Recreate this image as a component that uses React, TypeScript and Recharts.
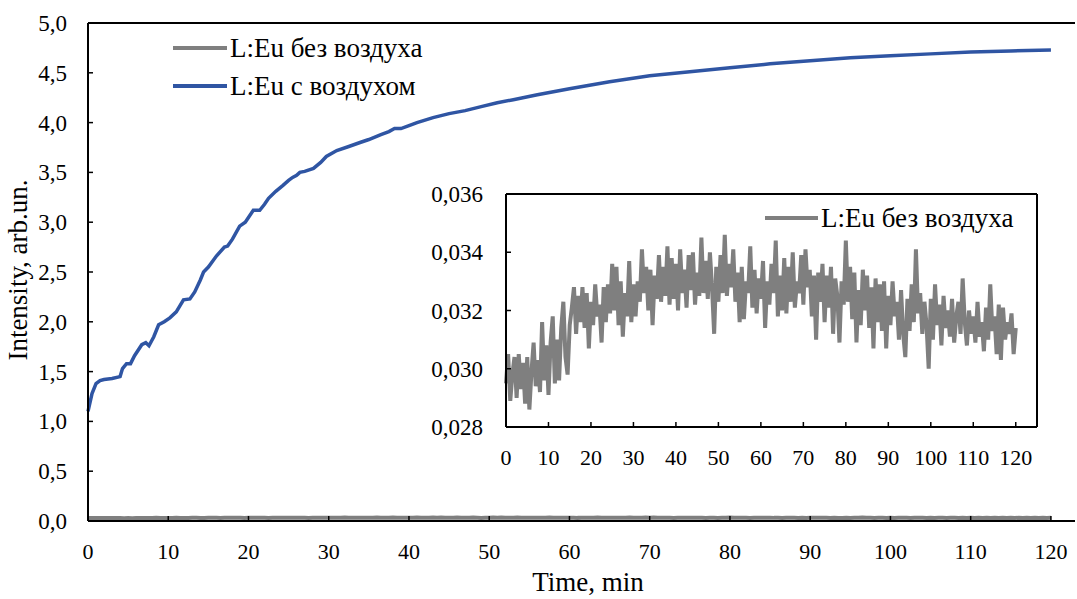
import { LineChart, Line, XAxis, YAxis, Legend, ReferenceLine } from 'recharts'

const FONT = 'Liberation Serif, DejaVu Serif, serif'
const X_TICK_FS = 22
const Y_TICK_FS = 23
const TITLE_FS = 27
const LEGEND_FS = 27

// L:Eu с воздухом
const airTime = [
  0, 0.5, 1, 1.5, 2, 3, 4, 4.3, 4.8, 5.3, 5.8, 6.7, 7.2, 7.6, 8.2, 8.8, 9.5, 10.2, 11, 11.9,
  12.7, 13.3, 14, 14.4, 15, 16, 17, 17.4, 18, 18.9, 19.6, 20.1, 20.6, 21.4, 22, 22.5, 23.4, 24.3,
  25, 25.5, 26, 26.4, 27, 28.1, 29, 29.7, 31, 32.5, 33.9, 35, 36.5, 37.5, 38.2, 39, 40, 41, 43,
  45, 47, 49, 51, 53, 56, 60, 65, 70, 75, 80, 85, 90, 95, 100, 105, 110, 115, 120
]
const airIntensity = [
  1.1, 1.28, 1.38, 1.41, 1.42, 1.43, 1.45, 1.53, 1.58, 1.58, 1.66, 1.77, 1.79, 1.76, 1.85, 1.97,
  2.0, 2.04, 2.1, 2.22, 2.23, 2.3, 2.42, 2.5, 2.55, 2.66, 2.75, 2.76, 2.83, 2.96, 3.0, 3.06, 3.12,
  3.12, 3.18, 3.24, 3.31, 3.37, 3.42, 3.45, 3.47, 3.5, 3.51, 3.54, 3.6, 3.66, 3.72, 3.76, 3.8,
  3.83, 3.88, 3.91, 3.94, 3.94, 3.97, 4.0, 4.05, 4.09, 4.12, 4.16, 4.2, 4.23, 4.28, 4.34, 4.41,
  4.47, 4.51, 4.55, 4.59, 4.62, 4.65, 4.67, 4.69, 4.71, 4.72, 4.73
]

// L:Eu без воздуха, one reading every 0.5 min
const noAirIntensity = [
  0.0295, 0.0305, 0.0289, 0.0298, 0.0304, 0.029, 0.0305, 0.0293, 0.0302, 0.0288,
  0.0304, 0.0286, 0.0299, 0.0309, 0.0294, 0.0303, 0.0292, 0.0316, 0.0296, 0.0308,
  0.0291, 0.0309, 0.0318, 0.0295, 0.031, 0.0296, 0.0314, 0.0323, 0.0304, 0.0298,
  0.0315, 0.0321, 0.0328, 0.0312, 0.0325, 0.0316, 0.0328, 0.0314, 0.0326, 0.0307,
  0.0323, 0.0315, 0.0329, 0.0318, 0.0322, 0.0309, 0.0328, 0.0316, 0.0329, 0.0319,
  0.0336, 0.032, 0.0335, 0.0315, 0.033, 0.0311, 0.0326, 0.0318, 0.0337, 0.0316,
  0.0329, 0.0318, 0.033, 0.0323, 0.0341, 0.0326, 0.0335, 0.032, 0.0334, 0.0315,
  0.0332, 0.0324, 0.0339, 0.0323, 0.0335, 0.0325, 0.0342, 0.0322, 0.0338, 0.0324,
  0.0336, 0.032, 0.0341, 0.0326, 0.0334, 0.0321, 0.0339, 0.0327, 0.034, 0.0322,
  0.0333, 0.0325, 0.0345, 0.0326, 0.0337, 0.0324, 0.034, 0.0328, 0.0312, 0.0335,
  0.0323, 0.0339, 0.0326, 0.0346, 0.0325, 0.0336, 0.0328, 0.0341, 0.0323, 0.0333,
  0.0316, 0.0335, 0.0317, 0.033, 0.0326, 0.0342, 0.0321, 0.0334, 0.0319, 0.0331,
  0.0324, 0.0337, 0.0314, 0.033, 0.0322, 0.0336, 0.0326, 0.0344, 0.0318, 0.0332,
  0.032, 0.0338, 0.0319, 0.0335, 0.0323, 0.034, 0.0321, 0.033, 0.0326, 0.0339,
  0.0322, 0.0341, 0.0328, 0.0334, 0.0318, 0.0332, 0.031, 0.0333, 0.0323, 0.0336,
  0.0316, 0.0332, 0.0321, 0.0335, 0.0312, 0.0331, 0.0325, 0.0309, 0.033, 0.0322,
  0.0344, 0.0323, 0.0335, 0.0317, 0.0333, 0.0309, 0.0327, 0.0315, 0.0334, 0.032,
  0.0332, 0.0314, 0.0328, 0.0307, 0.0331, 0.0316, 0.0329, 0.0313, 0.033, 0.0307,
  0.0325, 0.0315, 0.033, 0.0318, 0.0323, 0.031, 0.0327, 0.0312, 0.0304, 0.0324,
  0.0313, 0.0329, 0.0316, 0.0341, 0.0319, 0.0326, 0.0312, 0.0323, 0.0315, 0.03,
  0.0324, 0.031, 0.0329, 0.0315, 0.0322, 0.0308, 0.0325, 0.0314, 0.032, 0.0311,
  0.0324, 0.0309, 0.0318, 0.0323, 0.0312, 0.0331, 0.0316, 0.0308, 0.032, 0.0312,
  0.0318, 0.0309, 0.0323, 0.0311, 0.0316, 0.0306, 0.0321, 0.031, 0.0329, 0.0313,
  0.0318, 0.0305, 0.0322, 0.0303, 0.0321, 0.031, 0.0316, 0.0312, 0.0319, 0.0305,
  0.0314
]
const noAirTime = noAirIntensity.map((_, i) => i * 0.5)

const timeTicks = [0, 10, 20, 30, 40, 50, 60, 70, 80, 90, 100, 110, 120]
const mainYTicks = [0, 0.5, 1, 1.5, 2, 2.5, 3, 3.5, 4, 4.5, 5]
const insetYTicks = [0.028, 0.03, 0.032, 0.034, 0.036]

const airName = 'L:Eu с воздухом'
const noAirName = 'L:Eu без воздуха'

const airData = airTime.map((t, i) => ({ t, v: airIntensity[i] }))
const noAirData = noAirTime.map((t, i) => ({ t, v: noAirIntensity[i] }))

const GRAY = '#7f7f7f'
const BLUE = '#2f55a3'

const makeYTick = (digits: number, gap: number) => (props: any) => {
  const { x, y, payload } = props
  return (
    <g>
      <line x1={x} y1={y} x2={x + 5} y2={y} stroke='#000' strokeWidth={1.5} />
      <text x={x - gap} y={y} dy={8} textAnchor='end' style={{ fontFamily: FONT, fontSize: Y_TICK_FS }} fill='#000'>
        {payload.value.toFixed(digits).replace('.', ',')}
      </text>
    </g>
  )
}

const XTick = (props: any) => {
  const { x, y, payload } = props
  return (
    <g>
      <line x1={x} y1={y} x2={x} y2={y - 5} stroke='#000' strokeWidth={1.5} />
      <text x={x} y={y + 38} textAnchor='middle' style={{ fontFamily: FONT, fontSize: X_TICK_FS }} fill='#000'>
        {payload.value}
      </text>
    </g>
  )
}

const makeLegend = (sample: number) => (props: any) => (
  <div style={{ fontFamily: FONT, fontSize: LEGEND_FS, color: '#000', lineHeight: '28px' }}>
    {props.payload.map((e: any) => (
      <div key={e.value} style={{ display: 'flex', alignItems: 'center', height: 38, whiteSpace: 'nowrap' }}>
        <svg width={sample} height={6} style={{ display: 'block' }}>
          <line x1={0} y1={3} x2={sample} y2={3} stroke={e.color} strokeWidth={4} />
        </svg>
        <span style={{ marginLeft: 3 }}>{e.value}</span>
      </div>
    ))}
  </div>
)

export default function App() {
  return (
    <div style={{ position: 'absolute', left: 0, top: 0, width: 1077, height: 599, background: '#fff' }}>
      <div style={{ position: 'absolute', left: 0, top: 0 }}>
        <LineChart width={1077} height={599} margin={{ top: 23, right: 2, bottom: 38, left: 0 }}>
          <XAxis
            dataKey='t'
            type='number'
            domain={[0, 123]}
            ticks={timeTicks}
            tickSize={0}
            tickMargin={0}
            tick={XTick}
            height={40}
            axisLine={{ stroke: '#000', strokeWidth: 2 }}
            label={{
              content: () => (
                <text x={588} y={591} textAnchor='middle' style={{ fontFamily: FONT, fontSize: TITLE_FS }} fill='#000'>
                  Time, min
                </text>
              )
            }}
          />
          <YAxis
            type='number'
            domain={[0, 5]}
            ticks={mainYTicks}
            tickSize={0}
            tickMargin={0}
            tick={makeYTick(1, 21)}
            width={88}
            axisLine={{ stroke: '#000', strokeWidth: 2 }}
            label={{
              content: () => (
                <text
                  x={27}
                  y={270}
                  transform='rotate(-90 27 270)'
                  textAnchor='middle'
                  style={{ fontFamily: FONT, fontSize: TITLE_FS }}
                  fill='#000'
                >
                  Intensity, arb.un.
                </text>
              )
            }}
          />
          <ReferenceLine y={5} stroke='#000' strokeWidth={2} />
          <Legend
            layout='vertical'
            align='center'
            verticalAlign='middle'
            content={makeLegend(54)}
            wrapperStyle={{ left: 173, top: 29, width: 'auto' }}
          />
          <Line
            data={noAirData}
            dataKey='v'
            name={noAirName}
            stroke={GRAY}
            strokeWidth={4}
            dot={false}
            type='linear'
            isAnimationActive={false}
          />
          <Line
            data={airData}
            dataKey='v'
            name={airName}
            stroke={BLUE}
            strokeWidth={3.5}
            dot={false}
            type='linear'
            isAnimationActive={false}
          />
        </LineChart>
      </div>
      <div style={{ position: 'absolute', left: 0, top: 0 }}>
        <LineChart width={1077} height={599} margin={{ top: 194, right: 40, bottom: 132, left: 0 }}>
          <XAxis
            dataKey='t'
            type='number'
            domain={[0, 125]}
            ticks={timeTicks}
            tickSize={0}
            tickMargin={0}
            tick={XTick}
            height={40}
            axisLine={{ stroke: '#000', strokeWidth: 2 }}
          />
          <YAxis
            type='number'
            domain={[0.028, 0.036]}
            ticks={insetYTicks}
            tickSize={0}
            tickMargin={0}
            tick={makeYTick(3, 23)}
            width={506}
            axisLine={{ stroke: '#000', strokeWidth: 2 }}
          />
          <ReferenceLine y={0.036} stroke='#000' strokeWidth={2} />
          <ReferenceLine x={125} stroke='#000' strokeWidth={2} />
          <Legend
            layout='vertical'
            align='center'
            verticalAlign='middle'
            content={makeLegend(53)}
            wrapperStyle={{ left: 765, top: 199, width: 'auto' }}
          />
          <Line
            data={noAirData}
            dataKey='v'
            name={noAirName}
            stroke={GRAY}
            strokeWidth={4}
            dot={false}
            type='linear'
            isAnimationActive={false}
          />
        </LineChart>
      </div>
    </div>
  )
}
